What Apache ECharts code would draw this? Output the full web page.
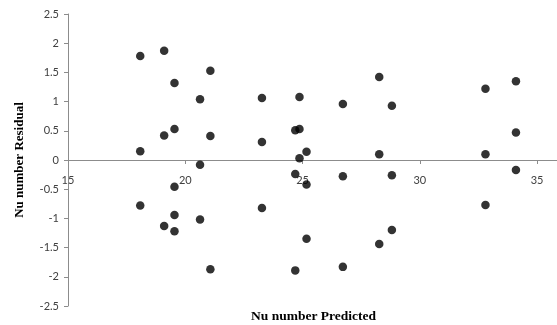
<!DOCTYPE html>
<html>
<head>
<meta charset="utf-8">
<script src="https://cdn.jsdelivr.net/npm/echarts@6/dist/echarts.min.js"></script>
<style>
  html, body { margin: 0; padding: 0; background: #fff; }
  #chart { width: 557px; height: 325px; }
</style>
</head>
<body>
<div id="chart"></div>
<script>
// Predicted Nu number for each case, and the residual left after the fit
const predicted = [
  18.08, 18.08, 18.08,
  19.10, 19.10, 19.10,
  19.54, 19.54, 19.54, 19.54, 19.54,
  20.63, 20.63, 20.63,
  21.07, 21.07, 21.07,
  23.27, 23.27, 23.27,
  24.69, 24.69, 24.69,
  24.87, 24.87, 24.87,
  25.17, 25.17, 25.17,
  26.72, 26.72, 26.72,
  28.27, 28.27, 28.27,
  28.81, 28.81, 28.81,
  32.80, 32.80, 32.80,
  34.10, 34.10, 34.10
];
const residual = [
  1.78, 0.15, -0.78,
  1.87, 0.42, -1.13,
  1.32, 0.53, -0.46, -0.94, -1.22,
  1.04, -0.08, -1.02,
  1.53, 0.41, -1.87,
  1.06, 0.31, -0.82,
  0.51, -0.24, -1.89,
  1.08, 0.53, 0.03,
  0.14, -0.42, -1.35,
  0.96, -0.28, -1.83,
  1.42, 0.10, -1.44,
  0.93, -0.26, -1.20,
  1.22, 0.10, -0.77,
  1.35, 0.47, -0.17
];
const xTicks = [15, 20, 25, 30, 35];
const xTitle = 'Nu number Predicted';
const yTitle = 'Nu number Residual';

const points = predicted.map((x, i) => [x, residual[i]]);
const axisGray = '#8c8c8c';
const labelFont = { fontFamily: 'Lato', fontSize: 11, color: '#404040' };

// plot area: residual 0 sits halfway down, so the x axis is lifted by half the plot height
const plotTop = 14, plotBottom = 19, chartH = 325;
const zeroLift = (chartH - plotTop - plotBottom) / 2;

const chart = echarts.init(document.getElementById('chart'), null, { renderer: 'canvas' });
chart.setOption({
  animation: false,
  backgroundColor: '#ffffff',
  grid: { left: 68, right: 0, top: plotTop, bottom: plotBottom, containLabel: false, outerBoundsMode: 'none' },
  xAxis: {
    type: 'value',
    min: 15,
    max: 35.85,
    interval: 5,
    offset: -zeroLift,
    splitLine: { show: false },
    axisLine: { show: true, onZero: false, lineStyle: { color: axisGray, width: 1 } },
    axisTick: { show: true, inside: false, length: 4, customValues: xTicks, lineStyle: { color: axisGray } },
    axisLabel: Object.assign({ margin: 15, customValues: xTicks }, labelFont)
  },
  yAxis: {
    type: 'value',
    min: -2.5,
    max: 2.5,
    interval: 0.5,
    splitLine: { show: false },
    axisLine: { show: true, onZero: false, lineStyle: { color: axisGray, width: 1 } },
    axisTick: { show: true, inside: false, length: 4, lineStyle: { color: axisGray } },
    axisLabel: Object.assign({ margin: 9 }, labelFont),
    name: yTitle,
    nameLocation: 'middle',
    nameGap: 42,
    nameTextStyle: { fontFamily: 'Liberation Serif', fontWeight: 'bold', fontSize: 13, color: '#000' }
  },
  graphic: [{
    type: 'text',
    left: 251,
    top: 310,
    style: { text: xTitle, font: 'bold 13.5px "Liberation Serif"', fill: '#000' }
  }],
  series: [{
    type: 'scatter',
    data: points,
    symbol: 'circle',
    symbolSize: 8.5,
    itemStyle: { color: '#000000' }
  }]
});
</script>
</body>
</html>
